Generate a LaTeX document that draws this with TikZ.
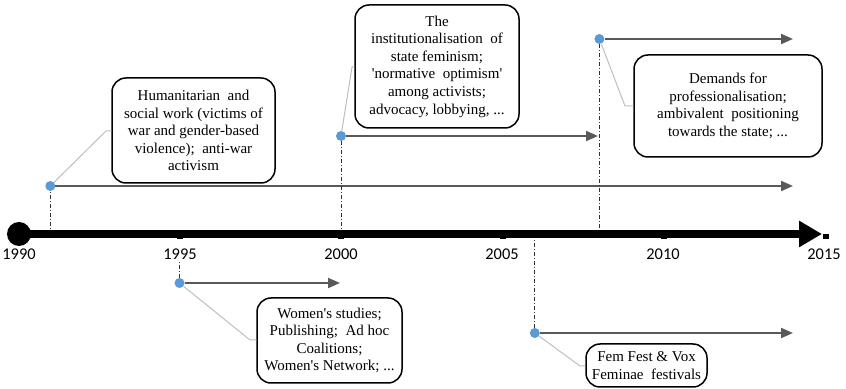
\documentclass[tikz,border=0pt]{standalone}
\usepackage{fontspec}
\setmainfont{Liberation Serif}
\newfontfamily\yearfont{Carlito}
\usetikzlibrary{arrows.meta, positioning}
\definecolor{dotblue}{HTML}{5B9BD5}
\definecolor{spangray}{HTML}{595959}
\definecolor{leadgray}{HTML}{BFBFBF}
\tikzset{
    evbox/.style={draw, line width=0.75pt, rounded corners=7pt, align=center,
        inner sep=1pt, font=\fontsize{7.5}{8.8}\selectfont},
    evdot/.style={circle, fill=dotblue, inner sep=0pt, minimum size=5pt},
    evarrow/.style={draw=spangray, line width=1pt, -{Triangle[length=6pt,width=5pt]}},
    evlead/.style={draw=leadgray, line width=0.5pt},
    evdrop/.style={draw=black!80, line width=0.4pt, dash pattern=on 2pt off 1pt on 0.5pt off 1pt},
    yearlabel/.style={font=\yearfont\fontsize{8.2}{9}\selectfont, inner sep=0pt},
}

\begin{document}
\begin{tikzpicture}[x=0.5pt, y=-0.5pt]
    \useasboundingbox (0,0) rectangle (846,389);

    % time axis
    \node[circle, fill, minimum size=12pt, inner sep=0pt] (origin) at (19,234) {};
    \coordinate (axend) at (822,234);
    \coordinate (axtop) at (0,230);
    \coordinate (axbot) at (0,238);
    \draw[line width=4pt, -{Triangle[length=11.5pt,width=12.5pt]}] (origin.center) -- (axend);
    \foreach \yr in {1995,2000,...,2015}{
        \pgfmathsetmacro\px{18+(\yr-1990)*32.3}
        \fill (\px-3,234) rectangle (\px+3,239);
    }
    \foreach \yr in {1990,1995,...,2015}{
        \pgfmathsetmacro\px{19+(\yr-1990)*32.2}
        \node[yearlabel] (y\yr) at (\px,254) {\yr};
    }

    % 1991
    \coordinate (e91) at (793,186);
    \coordinate (k91) at (106,131);
    \node[evbox, minimum width=81.5pt, minimum height=52.5pt] (b91) at (193.5,130.5)
        {Humanitarian\ \ and\\ social work (victims of\\ war and gender-based\\ violence);\ \ anti-war\\ activism};
    \draw[evdrop] (50.3,186) -- (50.3,230);
    \draw[evarrow] (50.3,186) -- (e91);
    \draw[evlead] (50.3,186) -- (k91) -- (b91.west |- k91);
    \node[evdot] (d91) at (50.3,186) {};

    % 1995
    \coordinate (e95) at (340,283);
    \coordinate (k95) at (250,340);
    \node[evbox, minimum width=72.5pt, minimum height=42.5pt] (b95) at (329.5,340.5)
        {Women\textquotesingle s studies;\\ Publishing;\ \ Ad hoc\\ Coalitions;\\ Women\textquotesingle s Network; ...};
    \node[evdot] (d95) at (179.5,283) {};
    \draw[evdrop] (d95) -- (d95 |- y1995.south);
    \draw[evarrow] (d95) -- (e95);
    \draw[evlead] (d95) -- (k95) -- (b95.west |- k95);

    % 2000
    \coordinate (e00) at (598,136);
    \coordinate (k00) at (352,67);
    \node[evbox, minimum width=82pt, minimum height=61.5pt] (b00) at (437,66.5)
        {The\\ institutionalisation\ \ of\\ state feminism;\\ \textquotesingle normative\ \ optimism\textquotesingle\\ among activists;\\ advocacy, lobbying, ...};
    \node[evdot] (d00) at (341,136) {};
    \draw[evdrop] (d00) -- (d00 |- axtop);
    \draw[evarrow] (d00) -- (e00);
    \draw[evlead] (d00) -- (k00) -- (b00.west |- k00);

    % 2006
    \coordinate (e06) at (793,333);
    \coordinate (k06) at (580,366);
    \node[evbox, minimum width=60.5pt, minimum height=21.5pt] (b06) at (646.5,365.5)
        {Fem Fest \& Vox\\ Feminae\ \ festivals};
    \node[evdot] (d06) at (534.8,333) {};
    \draw[evdrop] (d06) -- (d06 |- axbot);
    \draw[evarrow] (d06) -- (e06);
    \draw[evlead] (d06) -- (k06) -- (b06.west |- k06);

    % 2008
    \coordinate (e08) at (793,39);
    \coordinate (k08) at (625,106);
    \node[evbox, minimum width=94pt, minimum height=51pt] (b08) at (728,106)
        {Demands for\\ professionalisation;\\ ambivalent\ \ positioning\\ towards the state; ...};
    \node[evdot] (d08) at (599.4,39) {};
    \draw[evdrop] (d08) -- (d08 |- axtop);
    \draw[evarrow] (d08) -- (e08);
    \draw[evlead] (d08) -- (k08) -- (b08.west |- k08);
\end{tikzpicture}
\end{document}
